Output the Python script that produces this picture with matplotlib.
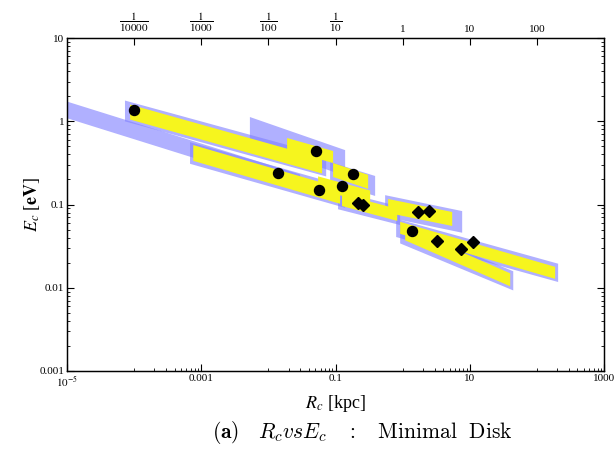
import matplotlib
matplotlib.use('Agg')
import matplotlib.pyplot as plt
from matplotlib.ticker import FixedLocator, NullFormatter, NullLocator

# galaxies: core radius R_c [kpc] and core energy E_c [eV]
circ_R = [1.0e-4, 0.051, 0.014, 0.183, 0.125, 0.057, 1.38]
circ_E = [1.35, 0.44, 0.239, 0.233, 0.167, 0.150, 0.048]
diam_R = [0.217, 0.258, 1.70, 2.48, 3.27, 7.45, 11.2]
diam_E = [0.104, 0.099, 0.0815, 0.0838, 0.0366, 0.0293, 0.0356]

# allowed regions (blue) : start/end radius, start/end energy, width in dex
blue_R0 = [1e-5, 7.3e-5, 6.8e-4, 5.3e-3, 0.083, 0.109, 0.548, 0.80, 0.918]
blue_R1 = [0.0297, 0.0725, 0.139, 0.139, 0.389, 0.918, 7.7, 207, 44.4]
blue_E0 = [1.37, 1.33, 0.416, 0.787, 0.246, 0.113, 0.096, 0.0524, 0.0444]
blue_E1 = [0.182, 0.290, 0.123, 0.315, 0.167, 0.073, 0.0618, 0.0151, 0.0121]
blue_w = [0.20, 0.25, 0.26, 0.31, 0.24, 0.22, 0.26, 0.22, 0.23]

# best fit regions (yellow)
yel_R0 = [8.7e-5, 7.6e-4, 0.019, 0.092, 0.055, 0.125, 0.608, 0.918, 1.09]
yel_R1 = [0.063, 0.117, 0.092, 0.306, 0.328, 0.83, 5.47, 187, 40]
yel_E0 = [1.29, 0.416, 0.533, 0.260, 0.182, 0.113, 0.096, 0.0524, 0.0444]
yel_E1 = [0.290, 0.127, 0.372, 0.187, 0.123, 0.075, 0.067, 0.0151, 0.01245]
yel_w = [0.18, 0.19, 0.144, 0.168, 0.156, 0.144, 0.168, 0.144, 0.156]

xticks = [1e-5, 1e-3, 1e-1, 1e1, 1e3]
xticklabels = [r'$10^{-5}$', '0.001', '0.1', '10', '1000']
yticks = [1e-3, 1e-2, 1e-1, 1, 10]
yticklabels = ['0.001', '0.01', '0.1', '1', '10']
topticks = [1e-4, 1e-3, 1e-2, 1e-1, 1, 10, 100]
toplabels = [r'$\dfrac{1}{10000}$', r'$\dfrac{1}{1000}$', r'$\dfrac{1}{100}$',
             r'$\dfrac{1}{10}$', '1', '10', '100']

plt.rcParams['font.family'] = ['Liberation Serif', 'DejaVu Serif']
plt.rcParams['mathtext.fontset'] = 'stix'

fig = plt.figure(figsize=(6.16, 4.51), dpi=100)
ax = fig.add_axes([0.1088, 0.1774, 0.8718, 0.7383])
ax.set_xscale('log')
ax.set_yscale('log')


def band(r0, r1, e0, e1, w, **kw):
    h = 10 ** (w / 2)
    ax.fill([r0, r1, r1, r0], [e0 * h, e1 * h, e1 / h, e0 / h], **kw)


for i in range(len(blue_R0)):
    band(blue_R0[i], blue_R1[i], blue_E0[i], blue_E1[i], blue_w[i],
         color=(0.5, 0.5, 1.0), alpha=0.62, lw=0)
for i in range(len(yel_R0)):
    band(yel_R0[i], yel_R1[i], yel_E0[i], yel_E1[i], yel_w[i],
         color='#f6f51e', lw=0)

ax.plot(circ_R, circ_E, 'o', color='black', ms=7.2)
ax.plot(diam_R, diam_E, 'D', color='black', ms=6)

ax.set_xlim(1e-5, 1e3)
ax.set_ylim(1e-3, 10)
ax.set_xticks(xticks)
ax.set_xticklabels(xticklabels)
ax.xaxis.set_minor_locator(FixedLocator([k * 10.0 ** n for n in (-4, -2, 0, 2) for k in range(1, 10)]))
ax.xaxis.set_minor_formatter(NullFormatter())
ax.set_yticks(yticks)
ax.set_yticklabels(yticklabels)
ax.yaxis.set_minor_locator(FixedLocator([k * 10.0 ** n for n in range(-3, 1) for k in range(2, 10)]))
ax.yaxis.set_minor_formatter(NullFormatter())
ax.tick_params(which='both', direction='in', right=True, labelsize=8, pad=2)
ax.tick_params(which='major', length=5)
ax.tick_params(which='minor', length=2.5)

ax2 = ax.twiny()
ax2.set_xscale('log')
ax2.set_xlim(1e-5, 1e3)
ax2.set_xticks(topticks)
ax2.set_xticklabels(toplabels)
ax2.xaxis.set_minor_locator(NullLocator())
ax2.tick_params(direction='in', length=5, labelsize=8, pad=3)

for a in (ax, ax2):
    for s in a.spines.values():
        s.set_linewidth(0.9)

ax.set_xlabel(r'$R_c$ [kpc]', fontsize=13, labelpad=3)
ax.set_ylabel(r'$E_c$ [$\mathbf{eV}$]', fontsize=13, labelpad=-2)

fig.text(0.588, 0.042,
         r'$\mathbf{(a)}\quad R_c v s E_c\quad :\quad \mathrm{Minimal\ \ Disk}$',
         ha='center', va='center', fontsize=15.5, math_fontfamily='cm')

fig.savefig('out.png', dpi=100)
